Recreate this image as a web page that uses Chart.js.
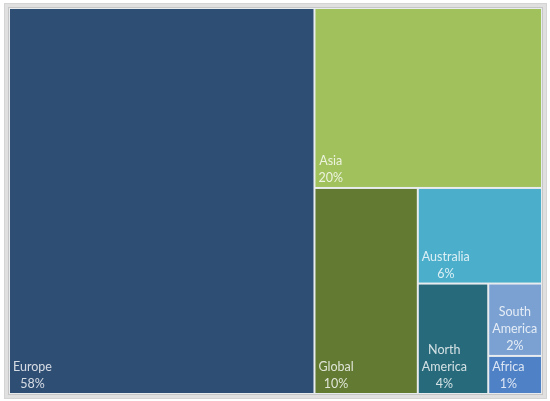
<!DOCTYPE html>
<html>
<head>
<meta charset="utf-8">
<script src="https://cdn.jsdelivr.net/npm/chart.js@4.4.1/dist/chart.umd.min.js"></script>
<style>
  html, body { margin: 0; padding: 0; background: #ffffff; }
  #wrap { width: 550px; height: 401px; }
</style>
</head>
<body>
<div id="wrap"><canvas id="c" width="550" height="401"></canvas></div>
<script>
// ---- data ----
const categories = ['Europe', 'Asia', 'Global', 'Australia', 'North America', 'South America', 'Africa'];
// underlying shares (labels show the rounded values)
const shareValues = [57.6, 20.0, 10.4, 5.8, 3.8, 1.9, 1.0];
const shareLabels = ['58%', '20%', '10%', '6%', '4%', '2%', '1%'];
// ---- styles ----
const cellColors = ['#2F4E74', '#A0C15B', '#627A32', '#4BAFCB', '#276A7B', '#7AA1D2', '#4F81C6'];

// slice layout: each item is cut from the remaining rectangle along its longer side
function layoutCells(vals, pxW, pxH) {
  let x0 = 0, y0 = 0, x1 = 1, y1 = 1;
  let rem = vals.reduce((a, b) => a + b, 0);
  const out = [];
  vals.forEach((v, i) => {
    const w = (x1 - x0) * pxW, h = (y1 - y0) * pxH;
    const f = i === vals.length - 1 ? 1 : v / rem;
    if (w >= h) {
      const xc = x0 + (x1 - x0) * f;
      out.push({ x0: x0, x1: xc, y0: y0, y1: y1 });
      x0 = xc;
    } else {
      const yc = y0 + (y1 - y0) * f;
      out.push({ x0: x0, x1: x1, y0: y0, y1: yc });
      y0 = yc;
    }
    rem -= v;
  });
  return out;
}

function wrapWords(ctx, text, maxW) {
  const words = text.split(' ');
  const lines = [];
  let cur = '';
  words.forEach(w => {
    const t = cur ? cur + ' ' + w : w;
    if (cur && ctx.measureText(t).width > maxW) { lines.push(cur); cur = w; }
    else cur = t;
  });
  if (cur) lines.push(cur);
  return lines;
}

const treemapPlugin = {
  id: 'treemapCells',
  beforeDraw(chart) {
    const ctx = chart.ctx;
    const a = chart.chartArea;
    ctx.save();
    ctx.fillStyle = '#ffffff';
    ctx.fillRect(0, 0, chart.width, chart.height);
    // frame
    ctx.fillStyle = '#d4d4d4';
    ctx.fillRect(a.left - 5, a.top - 5, a.right - a.left + 10, a.bottom - a.top + 10);
    ctx.fillStyle = '#e0e0e0';
    ctx.fillRect(a.left - 4, a.top - 4, a.right - a.left + 8, a.bottom - a.top + 8);
    ctx.fillStyle = '#c6c6c6';
    ctx.fillRect(a.left - 1, a.top - 1, a.right - a.left + 2, a.bottom - a.top + 2);
    ctx.fillStyle = '#e9ecef';
    ctx.fillRect(a.left, a.top, a.right - a.left, a.bottom - a.top);
    ctx.restore();
  },
  afterDatasetsDraw(chart) {
    const ctx = chart.ctx;
    const xs = chart.scales.x, ys = chart.scales.y;
    const a = chart.chartArea;
    const ds = chart.data.datasets[0];
    const cells = layoutCells(ds.data, a.right - a.left, a.bottom - a.top);
    ctx.save();
    cells.forEach((c, i) => {
      const L = xs.getPixelForValue(c.x0), R = xs.getPixelForValue(c.x1);
      const T = ys.getPixelForValue(c.y0), B = ys.getPixelForValue(c.y1);
      ctx.fillStyle = ds.backgroundColor[i];
      ctx.fillRect(L + 1, T + 1, R - L - 2, B - T - 2);
    });
    ctx.font = '12.5px Lato';
    ctx.fillStyle = 'rgba(255,255,255,0.8)';
    ctx.textAlign = 'center';
    ctx.textBaseline = 'alphabetic';
    cells.forEach((c, i) => {
      const L = xs.getPixelForValue(c.x0), R = xs.getPixelForValue(c.x1);
      const B = ys.getPixelForValue(c.y1);
      const lines = wrapWords(ctx, chart.data.labels[i], R - L - 8);
      lines.push(ds.valueLabels[i]);
      const bw = Math.max(...lines.map(s => ctx.measureText(s).width));
      const cx = L + 4 + bw / 2;
      const lh = 17;
      lines.forEach((s, k) => {
        const y = B - 6 - (lines.length - 1 - k) * lh;
        ctx.fillText(s, cx, y);
      });
    });
    ctx.restore();
  }
};

new Chart(document.getElementById('c'), {
  type: 'scatter',
  data: {
    labels: categories,
    datasets: [{
      label: 'Share',
      data: shareValues,
      valueLabels: shareLabels,
      backgroundColor: cellColors,
      pointRadius: 0,
      showLine: false
    }]
  },
  options: {
    responsive: false,
    animation: false,
    parsing: false,
    layout: { padding: { left: 9, top: 8, right: 8, bottom: 7 } },
    plugins: { legend: { display: false }, tooltip: { enabled: false } },
    scales: {
      x: { type: 'linear', min: 0, max: 1, display: false },
      y: { type: 'linear', min: 0, max: 1, reverse: true, display: false }
    }
  },
  plugins: [treemapPlugin]
});
</script>
</body>
</html>
